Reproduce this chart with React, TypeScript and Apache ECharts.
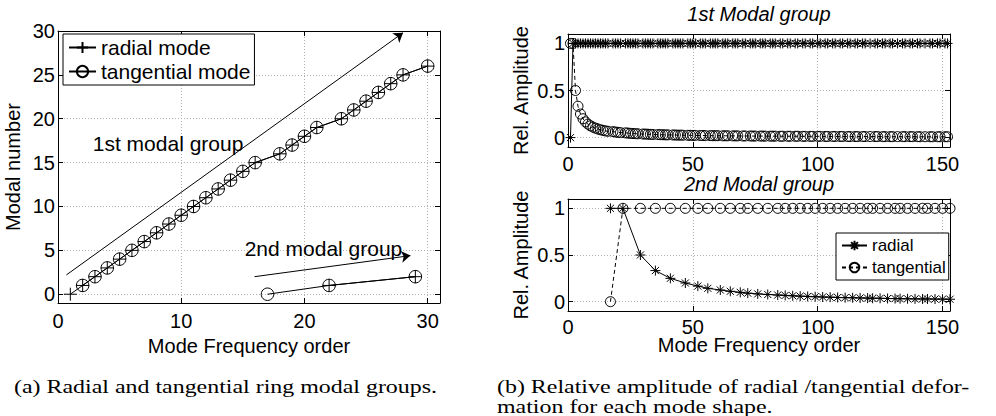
import React, { useEffect, useRef } from 'react';
import * as echarts from 'echarts';

// ---------- (a) left chart data ----------
const leftRadialG1X = [1, 2, 3, 4, 5, 6, 7, 8, 9, 10, 11, 12, 13, 14, 15, 16, 18, 19, 20, 21, 23, 24, 25, 26, 27, 28, 30];
const leftRadialG1Y = [0, 1, 2, 3, 4, 5, 6, 7, 8, 9, 10, 11, 12, 13, 14, 15, 16, 17, 18, 19, 20, 21, 22, 23, 24, 25, 26];
const leftTangG1X = [2, 3, 4, 5, 6, 7, 8, 9, 10, 11, 12, 13, 14, 15, 16, 18, 19, 20, 21, 23, 24, 25, 26, 27, 28, 30];
const leftTangG1Y = [1, 2, 3, 4, 5, 6, 7, 8, 9, 10, 11, 12, 13, 14, 15, 16, 17, 18, 19, 20, 21, 22, 23, 24, 25, 26];
const leftRadialG2X = [22, 29];
const leftRadialG2Y = [1, 2];
const leftTangG2X = [17, 22, 29];
const leftTangG2Y = [0, 1, 2];
// annotation arrows [x1, y1, x2, y2] in data units
const arrowGroup1 = [0.68, 2.2, 28.0, 29.8];
const arrowGroup2 = [15.95, 2.0, 28.6, 4.4];
const textGroup1 = [2.82, 17.2];
const textGroup2 = [15.15, 5.25];

// ---------- (b) right charts data ----------
const g1Order = [
  1, 2, 3, 4, 5, 6, 7, 8, 9, 10, 11, 12, 13, 14, 15, 16,
  18, 19, 20, 21,
  23, 24, 25, 26, 27, 28,
  30, 31, 32, 33, 34,
  36, 37, 38, 39, 40,
  42, 43, 44, 45, 46,
  48, 49, 50, 51,
  53, 54, 55,
  57, 58, 59, 60,
  62, 63, 64,
  66, 67, 68,
  70, 71,
  73, 74, 75,
  77, 78, 79,
  81, 82, 83,
  85, 86,
  88, 89,
  91, 92,
  94, 95,
  97, 98,
  100, 101,
  103, 104,
  106, 107,
  109, 110,
  112, 113,
  115, 116,
  118, 119,
  121,
  123, 124,
  126, 127,
  129, 130,
  132,
  134, 135,
  137, 138,
  140, 141,
  143,
  145, 146,
  148, 149,
  151, 152,
];
const g1Radial = [
  0, 1, 1, 1, 1, 1, 1, 1, 1, 1,
  1, 1, 1, 1, 1, 1, 1, 1, 1, 1,
  1, 1, 1, 1, 1, 1, 1, 1, 1, 1,
  1, 1, 1, 1, 1, 1, 1, 1, 1, 1,
  1, 1, 1, 1, 1, 1, 1, 1, 1, 1,
  1, 1, 1, 1, 1, 1, 1, 1, 1, 1,
  1, 1, 1, 1, 1, 1, 1, 1, 1, 1,
  1, 1, 1, 1, 1, 1, 1, 1, 1, 1,
  1, 1, 1, 1, 1, 1, 1, 1, 1, 1,
  1, 1, 1, 1, 1, 1, 1, 1, 1, 1,
  1, 1, 1, 1, 1, 1, 1, 1, 1, 1,
  1, 1, 1, 1,
];
const g1Tangential = [
  1, 1, 0.5, 0.333, 0.25, 0.2, 0.167, 0.143, 0.125, 0.111,
  0.1, 0.091, 0.083, 0.077, 0.071, 0.067, 0.063, 0.059, 0.056, 0.053,
  0.05, 0.048, 0.045, 0.043, 0.042, 0.04, 0.038, 0.037, 0.036, 0.034,
  0.033, 0.032, 0.031, 0.03, 0.029, 0.029, 0.028, 0.027, 0.026, 0.026,
  0.025, 0.024, 0.024, 0.023, 0.023, 0.022, 0.022, 0.021, 0.021, 0.02,
  0.02, 0.02, 0.019, 0.019, 0.019, 0.018, 0.018, 0.018, 0.017, 0.017,
  0.017, 0.016, 0.016, 0.016, 0.016, 0.015, 0.015, 0.015, 0.015, 0.014,
  0.014, 0.014, 0.014, 0.014, 0.014, 0.013, 0.013, 0.013, 0.013, 0.013,
  0.013, 0.012, 0.012, 0.012, 0.012, 0.012, 0.012, 0.011, 0.011, 0.011,
  0.011, 0.011, 0.011, 0.011, 0.011, 0.011, 0.01, 0.01, 0.01, 0.01,
  0.01, 0.01, 0.01, 0.01, 0.01, 0.01, 0.009, 0.009, 0.009, 0.009,
  0.009, 0.009, 0.009, 0.009,
];
const g2Order = [
  17, 22, 29, 35, 41, 47, 52, 56, 61, 65,
  69, 72, 76, 80, 84, 87, 90, 93, 96, 99,
  102, 105, 108, 111, 114, 117, 120, 122, 125, 128,
  131, 133, 136, 139, 142, 144, 147, 150, 153,
];
const g2Radial = [
  1, 1, 0.5, 0.333, 0.25, 0.2, 0.167, 0.143, 0.125, 0.111,
  0.1, 0.091, 0.083, 0.077, 0.071, 0.067, 0.063, 0.059, 0.056, 0.053,
  0.05, 0.048, 0.045, 0.043, 0.042, 0.04, 0.038, 0.037, 0.036, 0.034,
  0.033, 0.032, 0.031, 0.03, 0.029, 0.029, 0.028, 0.027, 0.026,
];
const g2Tangential = [
  0, 1, 1, 1, 1, 1, 1, 1, 1, 1,
  1, 1, 1, 1, 1, 1, 1, 1, 1, 1,
  1, 1, 1, 1, 1, 1, 1, 1, 1, 1,
  1, 1, 1, 1, 1, 1, 1, 1, 1,
];

const leftXTicks = [0, 10, 20, 30];
const leftYTicks = [0, 5, 10, 15, 20, 25, 30];
const rightXTicks = [0, 50, 100, 150];
const rightYTicks = [0, 0.5, 1];

const FONT = '"Liberation Sans", Arial, Helvetica, sans-serif';
const SERIF = '"Liberation Serif", "Times New Roman", serif';
const PLUS = 'path://M5,0L5,10M0,5L10,5';
const STAR = 'path://M5,0L5,10M0,5L10,5M1.46,1.46L8.54,8.54M1.46,8.54L8.54,1.46';

const zip = (xs: number[], ys: number[]) => xs.map((x, i) => [x, ys[i]]);
const inTicks = (ticks: number[]) => (v: number) => {
  const t = ticks.find((k) => Math.abs(k - v) < 1e-6);
  return t === undefined ? '' : String(t);
};

const axisLine = { show: true, onZero: false, lineStyle: { color: '#000', width: 1 } };
const axisTick = { show: true, inside: true, length: 5, lineStyle: { color: '#000', width: 1 } };
const splitLine = { show: true, lineStyle: { color: '#b0b0b0', width: 1, type: [1, 2] } };
const nameStyle = { color: '#000', fontSize: 20, fontFamily: FONT };

function mainX(grid: number, min: number, max: number, interval: number, ticks: number[], name: string, nameGap: number, margin: number, moveOverlap = true) {
  return {
    type: 'value', gridIndex: grid, position: 'bottom', min, max, interval,
    axisLine, axisTick, splitLine,
    axisLabel: { color: '#000', fontSize: 20, fontFamily: FONT, margin, formatter: inTicks(ticks) },
    name, nameLocation: 'middle', nameGap, nameTextStyle: nameStyle, nameMoveOverlap: moveOverlap,
  };
}
function mirrorX(grid: number, min: number, max: number, interval: number) {
  return {
    type: 'value', gridIndex: grid, position: 'top', min, max, interval,
    axisLine, axisTick, splitLine: { show: false }, axisLabel: { show: false },
  };
}
function mainY(grid: number, min: number, max: number, ticks: number[], name: string, nameGap: number, splitNumber: number) {
  return {
    type: 'value', gridIndex: grid, position: 'left', min, max, splitNumber,
    axisLine, axisTick, splitLine,
    axisLabel: { color: '#000', fontSize: 20, fontFamily: FONT, margin: 3, formatter: inTicks(ticks) },
    name, nameLocation: 'middle', nameGap, nameTextStyle: nameStyle,
  };
}
function mirrorY(grid: number, min: number, max: number, splitNumber: number) {
  return {
    type: 'value', gridIndex: grid, position: 'right', min, max, splitNumber,
    axisLine, axisTick, splitLine: { show: false }, axisLabel: { show: false },
  };
}

const blackLine = (type: any = 'solid') => ({ color: '#000', width: 1, type });
const hollow = { color: 'transparent', borderColor: '#000', borderWidth: 1 };

function buildOption() {
  return {
    animation: false,
    backgroundColor: '#fff',
    grid: [
      { left: 58, top: 31, width: 382, height: 272 },
      { left: 568, top: 34, width: 382, height: 113 },
      { left: 568, top: 199, width: 382, height: 112 },
    ],
    xAxis: [
      mainX(0, 0, 31, 10, leftXTicks, 'Mode Frequency order', 32, 8),
      mirrorX(0, 0, 31, 10),
      mainX(1, 0, 153, 50, rightXTicks, '', 20, 7),
      mirrorX(1, 0, 153, 50),
      mainX(2, 0, 153, 50, rightXTicks, 'Mode Frequency order', 24, 6, false),
      mirrorX(2, 0, 153, 50),
    ],
    yAxis: [
      mainY(0, -1, 30, leftYTicks, 'Modal number', 35, 5),
      mirrorY(0, -1, 30, 5),
      mainY(1, -0.1, 1.1, rightYTicks, 'Rel. Amplitude', 37, 2),
      mirrorY(1, -0.1, 1.1, 2),
      mainY(2, -0.1, 1.1, rightYTicks, 'Rel. Amplitude', 37, 2),
      mirrorY(2, -0.1, 1.1, 2),
    ],
    legend: [
      {
        data: ['radial mode', 'tangential mode'], left: 63, top: 34, orient: 'vertical',
        backgroundColor: '#fff', borderColor: '#000', borderWidth: 1, borderRadius: 0,
        padding: [3, 4, 3, 5], itemGap: 3, itemWidth: 27, itemHeight: 14, selectedMode: false,
        textStyle: { color: '#000', fontSize: 21, fontFamily: FONT },
      },
      {
        data: ['radial', 'tangential'], left: 836, top: 233, orient: 'vertical',
        backgroundColor: '#fff', borderColor: '#000', borderWidth: 1, borderRadius: 0,
        padding: [4, 3, 4, 5], itemGap: 5, itemWidth: 25, itemHeight: 12, selectedMode: false,
        textStyle: { color: '#000', fontSize: 17, fontFamily: FONT },
      },
    ],
    series: [
      {
        name: 'radial mode', type: 'line', xAxisIndex: 0, yAxisIndex: 0, silent: true,
        data: zip(leftRadialG1X, leftRadialG1Y), symbol: PLUS, symbolSize: 13,
        itemStyle: hollow, lineStyle: blackLine(), z: 3,
        markLine: {
          silent: true, symbol: ['none', 'arrow'], symbolSize: 9, label: { show: false },
          lineStyle: { color: '#000', width: 1, type: 'solid' },
          itemStyle: { color: '#000' },
          data: [
            [{ coord: [arrowGroup1[0], arrowGroup1[1]] }, { coord: [arrowGroup1[2], arrowGroup1[3]] }],
            [{ coord: [arrowGroup2[0], arrowGroup2[1]] }, { coord: [arrowGroup2[2], arrowGroup2[3]] }],
          ],
        },
        markPoint: {
          silent: true, symbol: 'circle', symbolSize: 0,
          label: { show: true, position: 'right', distance: 0, formatter: '{b}', color: '#000', fontSize: 21, fontFamily: FONT },
          data: [
            { name: '1st modal group', coord: textGroup1 },
            { name: '2nd modal group', coord: textGroup2 },
          ],
        },
      },
      {
        name: 'radial mode', type: 'line', xAxisIndex: 0, yAxisIndex: 0, silent: true,
        data: zip(leftRadialG2X, leftRadialG2Y), symbol: PLUS, symbolSize: 13,
        itemStyle: hollow, lineStyle: blackLine(), z: 3,
      },
      {
        name: 'tangential mode', type: 'line', xAxisIndex: 0, yAxisIndex: 0, silent: true,
        data: zip(leftTangG1X, leftTangG1Y), symbol: 'circle', symbolSize: 12.5,
        itemStyle: hollow, lineStyle: blackLine(), z: 3,
      },
      {
        name: 'tangential mode', type: 'line', xAxisIndex: 0, yAxisIndex: 0, silent: true,
        data: zip(leftTangG2X, leftTangG2Y), symbol: 'circle', symbolSize: 12.5,
        itemStyle: hollow, lineStyle: blackLine(), z: 3,
      },
      {
        name: 'radial', type: 'line', xAxisIndex: 2, yAxisIndex: 2, silent: true,
        data: zip(g1Order, g1Radial), symbol: STAR, symbolSize: 10,
        itemStyle: hollow, lineStyle: blackLine(), z: 3,
      },
      {
        name: 'tangential', type: 'line', xAxisIndex: 2, yAxisIndex: 2, silent: true,
        data: zip(g1Order, g1Tangential), symbol: 'circle', symbolSize: 10,
        itemStyle: hollow, lineStyle: blackLine([4, 3]), z: 3,
      },
      {
        name: 'radial', type: 'line', xAxisIndex: 4, yAxisIndex: 4, silent: true,
        data: zip(g2Order, g2Radial), symbol: STAR, symbolSize: 10,
        itemStyle: hollow, lineStyle: blackLine(), z: 3,
      },
      {
        name: 'tangential', type: 'line', xAxisIndex: 4, yAxisIndex: 4, silent: true,
        data: zip(g2Order, g2Tangential), symbol: 'circle', symbolSize: 10,
        itemStyle: hollow, lineStyle: blackLine([4, 3]), z: 3,
      },
    ],
    graphic: [
      {
        type: 'text', x: 759, y: 14, silent: true,
        style: { text: '1st Modal group', align: 'center', verticalAlign: 'middle', fill: '#000', font: `italic 20px ${FONT}` },
      },
      {
        type: 'text', x: 759, y: 184, silent: true,
        style: { text: '2nd Modal group', align: 'center', verticalAlign: 'middle', fill: '#000', font: `italic 20px ${FONT}` },
      },
      {
        type: 'text', x: 14, y: 387, scaleX: 1.33, silent: true,
        style: { text: '(a) Radial and tangential ring modal groups.', align: 'left', verticalAlign: 'middle', fill: '#000', font: `18px ${SERIF}` },
      },
      {
        type: 'text', x: 497, y: 387, scaleX: 1.33, silent: true,
        style: { text: '(b) Relative amplitude of radial /tangential defor-', align: 'left', verticalAlign: 'middle', fill: '#000', font: `18px ${SERIF}` },
      },
      {
        type: 'text', x: 497, y: 416, scaleX: 1.33, silent: true,
        style: { text: 'mation for each mode shape.', align: 'left', verticalAlign: 'bottom', fill: '#000', font: `18px ${SERIF}` },
      },
    ],
  };
}

export default function App() {
  const ref = useRef<HTMLDivElement>(null);
  useEffect(() => {
    if (!ref.current) return;
    const chart = echarts.init(ref.current, null, { renderer: 'svg' });
    chart.setOption(buildOption() as any);
    return () => chart.dispose();
  }, []);
  return (
    <div
      ref={ref}
      style={{ position: 'fixed', left: 0, top: 0, width: 996, height: 416, background: '#fff' }}
    />
  );
}
